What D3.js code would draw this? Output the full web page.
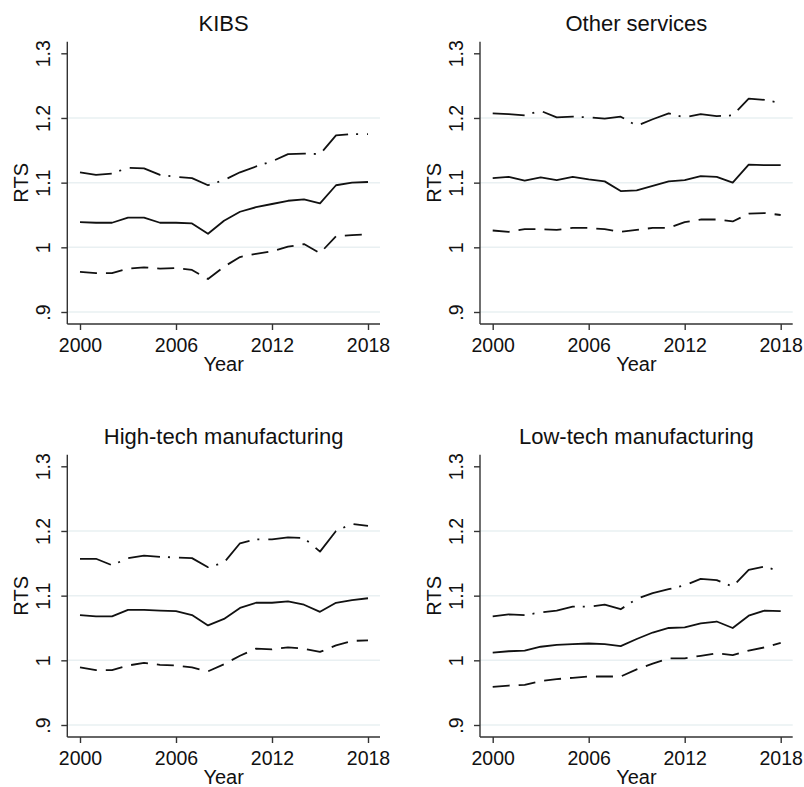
<!DOCTYPE html>
<html>
<head>
<meta charset="utf-8">
<script src="https://cdn.jsdelivr.net/npm/d3@7"></script>
<style>
  html, body { margin: 0; padding: 0; background: #fff; }
  svg { display: block; font-family: "Liberation Sans", Arial, Helvetica, sans-serif; }
</style>
</head>
<body>
<svg id="chart" width="804" height="787"></svg>
<script>
// Returns to scale (RTS) by sector, 2000-2018: point estimate with lower and upper bounds
const years = [2000, 2001, 2002, 2003, 2004, 2005, 2006, 2007, 2008, 2009,
               2010, 2011, 2012, 2013, 2014, 2015, 2016, 2017, 2018];

const kibsRts   = [1.039, 1.038, 1.038, 1.046, 1.046, 1.038, 1.038, 1.037, 1.021, 1.041, 1.055, 1.062, 1.067, 1.072, 1.074, 1.068, 1.096, 1.100, 1.101];
const kibsLower = [0.962, 0.960, 0.960, 0.967, 0.969, 0.967, 0.968, 0.965, 0.951, 0.970, 0.985, 0.990, 0.994, 1.001, 1.005, 0.991, 1.017, 1.019, 1.020];
const kibsUpper = [1.116, 1.112, 1.114, 1.123, 1.122, 1.112, 1.109, 1.107, 1.096, 1.104, 1.116, 1.125, 1.133, 1.144, 1.145, 1.144, 1.173, 1.175, 1.175];

const otherRts   = [1.107, 1.109, 1.103, 1.108, 1.104, 1.109, 1.105, 1.102, 1.087, 1.088, 1.095, 1.102, 1.104, 1.110, 1.109, 1.100, 1.128, 1.127, 1.127];
const otherLower = [1.026, 1.024, 1.028, 1.028, 1.027, 1.030, 1.030, 1.028, 1.024, 1.027, 1.030, 1.030, 1.039, 1.043, 1.043, 1.040, 1.052, 1.053, 1.050];
const otherUpper = [1.207, 1.206, 1.204, 1.211, 1.201, 1.202, 1.201, 1.199, 1.202, 1.188, 1.198, 1.207, 1.201, 1.206, 1.203, 1.204, 1.230, 1.228, 1.223];

const hiTechRts   = [1.070, 1.068, 1.068, 1.078, 1.078, 1.077, 1.076, 1.070, 1.054, 1.064, 1.081, 1.089, 1.089, 1.091, 1.086, 1.075, 1.089, 1.093, 1.096];
const hiTechLower = [0.989, 0.985, 0.985, 0.992, 0.996, 0.993, 0.992, 0.989, 0.983, 0.994, 1.007, 1.018, 1.017, 1.020, 1.018, 1.013, 1.023, 1.030, 1.031];
const hiTechUpper = [1.157, 1.157, 1.147, 1.158, 1.162, 1.160, 1.159, 1.158, 1.144, 1.151, 1.181, 1.187, 1.187, 1.190, 1.189, 1.168, 1.200, 1.211, 1.208];

const loTechRts   = [1.012, 1.014, 1.015, 1.021, 1.024, 1.025, 1.026, 1.025, 1.022, 1.033, 1.043, 1.050, 1.051, 1.057, 1.060, 1.050, 1.069, 1.077, 1.076];
const loTechLower = [0.959, 0.961, 0.962, 0.968, 0.971, 0.973, 0.975, 0.975, 0.975, 0.986, 0.995, 1.003, 1.003, 1.007, 1.011, 1.008, 1.015, 1.020, 1.027];
const loTechUpper = [1.068, 1.071, 1.070, 1.074, 1.077, 1.083, 1.083, 1.086, 1.079, 1.095, 1.104, 1.110, 1.116, 1.126, 1.124, 1.114, 1.140, 1.145, 1.137];

const panelTitles = ["KIBS", "Other services", "High-tech manufacturing", "Low-tech manufacturing"];
const xTicks = [2000, 2006, 2012, 2018];
const yTicks = [0.9, 1.0, 1.1, 1.2, 1.3];
const yTickLabels = [".9", "1", "1.1", "1.2", "1.3"];
const gridValues = [0.9, 1.0, 1.1, 1.2];

const panels = [
  { title: panelTitles[0], rts: kibsRts,   lower: kibsLower,   upper: kibsUpper,   col: 0, row: 0 },
  { title: panelTitles[1], rts: otherRts,  lower: otherLower,  upper: otherUpper,  col: 1, row: 0 },
  { title: panelTitles[2], rts: hiTechRts, lower: hiTechLower, upper: hiTechUpper, col: 0, row: 1 },
  { title: panelTitles[3], rts: loTechRts, lower: loTechLower, upper: loTechUpper, col: 1, row: 1 }
];

// Panel geometry (relative to each panel's origin)
const colStep = 412.7, rowStep = 413;
const axisLeftX = 67.3, axisRightX = 380, axisTopY = 41.7, axisBottomY = 324;
const xPlot = [80, 368];        // 2000 .. 2018
const yPlot = [312, 53.3];      // .9 .. 1.3

const ink = "#111";
const axisInk = "#333";
const gridInk = "#e9f0f2";

const svg = d3.select("#chart");

panels.forEach(p => {
  const g = svg.append("g")
    .attr("transform", `translate(${p.col * colStep},${p.row * rowStep})`);

  const x = d3.scaleLinear().domain([2000, 2018]).range(xPlot);
  const y = d3.scaleLinear().domain([0.9, 1.3]).range(yPlot);

  // Horizontal grid lines
  g.append("g").selectAll("line")
    .data(gridValues)
    .join("line")
    .attr("x1", axisLeftX).attr("x2", axisRightX)
    .attr("y1", d => y(d)).attr("y2", d => y(d))
    .attr("stroke", gridInk)
    .attr("stroke-width", 1.5);

  // Y axis
  const yAxis = g.append("g")
    .attr("transform", `translate(${axisLeftX},0)`)
    .call(d3.axisLeft(y)
      .tickValues(yTicks)
      .tickSize(6)
      .tickSizeOuter(0)
      .tickFormat((d, i) => yTickLabels[i]));
  yAxis.select(".domain").remove();
  yAxis.selectAll(".tick line").attr("stroke", axisInk).attr("stroke-width", 1.4);
  yAxis.selectAll(".tick text")
    .attr("x", null).attr("dy", null)
    .attr("transform", "translate(-17,0) rotate(-90)")
    .attr("text-anchor", "middle")
    .attr("fill", ink)
    .style("font-size", "19.5px");

  // X axis
  const xAxis = g.append("g")
    .attr("transform", `translate(0,${axisBottomY})`)
    .call(d3.axisBottom(x)
      .tickValues(xTicks)
      .tickSize(6)
      .tickSizeOuter(0)
      .tickFormat(d3.format("d")));
  xAxis.select(".domain").remove();
  xAxis.selectAll(".tick line").attr("stroke", axisInk).attr("stroke-width", 1.4);
  xAxis.selectAll(".tick text")
    .attr("y", 27.5).attr("dy", null)
    .attr("fill", ink)
    .style("font-size", "19.5px");

  // Axis lines
  g.append("line")
    .attr("x1", axisLeftX).attr("x2", axisLeftX)
    .attr("y1", axisTopY).attr("y2", axisBottomY)
    .attr("stroke", axisInk).attr("stroke-width", 1.4);
  g.append("line")
    .attr("x1", axisLeftX).attr("x2", axisRightX)
    .attr("y1", axisBottomY).attr("y2", axisBottomY)
    .attr("stroke", axisInk).attr("stroke-width", 1.4);

  // Series lines
  const line = d3.line()
    .x((d, i) => x(years[i]))
    .y(d => y(d));

  const series = [
    { values: p.lower, dash: "17,9" },
    { values: p.upper, dash: "32,8,2,9" },
    { values: p.rts,   dash: null }
  ];
  series.forEach(s => {
    g.append("path")
      .datum(s.values)
      .attr("d", line)
      .attr("fill", "none")
      .attr("stroke", ink)
      .attr("stroke-width", 1.8)
      .attr("stroke-linejoin", "round")
      .attr("stroke-dasharray", s.dash);
  });

  const cx = (axisLeftX + axisRightX) / 2;
  const cy = (axisTopY + axisBottomY) / 2;

  // Panel title
  g.append("text")
    .attr("x", cx).attr("y", 30.7)
    .attr("text-anchor", "middle")
    .attr("fill", ink)
    .style("font-size", "22px")
    .text(p.title);

  // Axis titles
  g.append("text")
    .attr("x", cx).attr("y", 371)
    .attr("text-anchor", "middle")
    .attr("fill", ink)
    .style("font-size", "20px")
    .text("Year");
  g.append("text")
    .attr("transform", `translate(28,${cy}) rotate(-90)`)
    .attr("text-anchor", "middle")
    .attr("fill", ink)
    .style("font-size", "20px")
    .text("RTS");
});
</script>
</body>
</html>
